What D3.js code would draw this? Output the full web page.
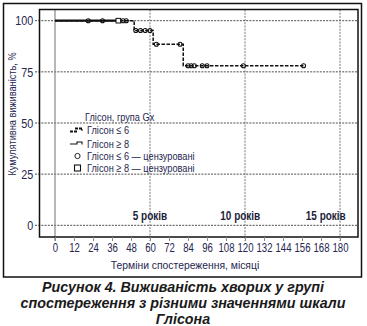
<!DOCTYPE html>
<html><head><meta charset="utf-8">
<script src="https://cdn.jsdelivr.net/npm/d3@7"></script>
<style>
html,body{margin:0;padding:0;background:#fff;}
svg{display:block;}
</style></head>
<body>
<svg id="c" width="367" height="326"></svg>
<script>
// ---- data ----
const xTicks = [0,12,24,36,48,60,72,84,96,108,120,132,144,156,168,180];
const yTicks = [0,25,50,75,100];
const yearMarks = [60,120,180];
const yearLabels = ["5 років","10 років","15 років"];
const yearLabelPos = [60,117,171];
// Gleason <= 6: KM step times and survival
const le6Times = [0,50,62,81];
const le6Surv  = [100,95.2,88.5,78.0];
const le6End = 157;
const le6Censor = [21,30,43,45,51,54,57,60,64,79,84,86,88,93,96,119,157];
// Gleason >= 8
const ge8Times = [0];
const ge8Surv  = [100];
const ge8End = 40;
const ge8Censor = [40];
const legendLabels = ["Глісон ≤ 6","Глісон ≥ 8","Глісон ≤ 6 — цензуровані","Глісон ≥ 8 — цензуровані"];

const svg = d3.select("#c");
const navy = "#262650";
const fontN = "'Liberation Sans',Arial,sans-serif";
const plot = {l:39.5, t:9.5, r:358, b:237};

const x = d3.scaleLinear().domain([0,180]).range([55,340]);
const y = d3.scaleLinear().domain([0,100]).range([225.3,20.7]);

// narrow text placed at (px,py)
function ntext(g, px, py, s, str){
  return g.append("text").attr("transform",`translate(${px},${py}) scale(${s},1)`).text(str);
}

// outer frame
svg.append("rect").attr("x",3.5).attr("y",3.5).attr("width",358).attr("height",273.5)
  .attr("fill","none").attr("stroke","#111").attr("stroke-width",1.5);

// horizontal dashed gridlines (extend left as ticks)
svg.append("g").selectAll("line").data(yTicks).join("line")
  .attr("x1",35).attr("x2",plot.r).attr("y1",d=>y(d)).attr("y2",d=>y(d))
  .attr("stroke","#222").attr("stroke-width",0.8).attr("stroke-dasharray","2,1.2");

// vertical grid lines
svg.append("g").selectAll("line").data(yearMarks).join("line")
  .attr("x1",d=>x(d)).attr("x2",d=>x(d)).attr("y1",plot.t).attr("y2",plot.b+4)
  .attr("stroke","#777").attr("stroke-width",1).attr("stroke-dasharray","2,1.2");
svg.append("line").attr("x1",x(0)).attr("x2",x(0)).attr("y1",plot.t).attr("y2",plot.b+4)
  .attr("stroke","#888").attr("stroke-width",1.2);

// plot frame
svg.append("rect").attr("x",plot.l).attr("y",plot.t).attr("width",plot.r-plot.l).attr("height",plot.b-plot.t)
  .attr("fill","none").attr("stroke","#111").attr("stroke-width",1.5);

// x axis
const xa = svg.append("g").attr("transform",`translate(0,${plot.b})`)
  .call(d3.axisBottom(x).tickValues(xTicks).tickSize(4).tickPadding(2));
xa.select(".domain").remove();
xa.selectAll(".tick line").attr("stroke","#888");
xa.selectAll("text").attr("font-family",fontN).attr("font-size","12px").attr("fill",navy)
  .attr("transform","scale(0.8,1)");

// y axis labels
const ya = svg.append("g").attr("transform",`translate(34,0)`)
  .call(d3.axisLeft(y).tickValues(yTicks).tickSize(0).tickPadding(1));
ya.select(".domain").remove();
ya.selectAll("text").attr("font-family",fontN).attr("font-size","13px").attr("fill",navy)
  .attr("transform","scale(0.83,1)");

// axis titles
const tg = svg.append("g").attr("font-family",fontN).attr("font-size","11.5px").attr("fill",navy).attr("text-anchor","middle");
ntext(tg,185,269,0.9,"Терміни спостереження, місяці");
tg.append("text").attr("transform","translate(16,114) rotate(-90) scale(0.8,1)")
  .text("Кумулятивна виживаність, %");

// year labels
const yl = svg.append("g").attr("font-family",fontN).attr("font-size","12.5px").attr("font-weight","bold")
  .attr("fill","#1d1d3a").attr("text-anchor","middle");
yearLabels.forEach((d,i)=>ntext(yl,x(yearLabelPos[i]),220,0.8,d));

// KM helper
function stepPts(times, surv, end){
  const pts=[];
  times.forEach((t,i)=>{
    if(i>0) pts.push([t,surv[i-1]]);
    pts.push([t,surv[i]]);
  });
  pts.push([end,surv[surv.length-1]]);
  return pts;
}
function survAt(times,surv,t){
  let s=surv[0];
  times.forEach((tt,i)=>{ if(tt<=t) s=surv[i]; });
  return s;
}
const line = d3.line().x(d=>x(d[0])).y(d=>y(d[1]));

// Gleason >= 8 (solid)
svg.append("path").attr("d",line(stepPts(ge8Times,ge8Surv,ge8End)))
  .attr("fill","none").attr("stroke","#111").attr("stroke-width",2.2);
// Gleason <= 6 (dashed)
svg.append("path").attr("d",line(stepPts(le6Times,le6Surv,le6End)))
  .attr("fill","none").attr("stroke","#111").attr("stroke-width",1.5).attr("stroke-dasharray","3.5,1.5");

// censor marks
svg.append("g").selectAll("circle").data(le6Censor).join("circle")
  .attr("cx",d=>x(d)).attr("cy",d=>y(survAt(le6Times,le6Surv,d))).attr("r",2)
  .attr("fill","none").attr("stroke","#111").attr("stroke-width",1.1);
svg.append("g").selectAll("rect").data(ge8Censor).join("rect")
  .attr("x",d=>x(d)-2.3).attr("y",d=>y(survAt(ge8Times,ge8Surv,d))-2.3).attr("width",4.6).attr("height",4.6)
  .attr("fill","#fff").attr("stroke","#111").attr("stroke-width",1);

// legend
const lg = svg.append("g").attr("font-family",fontN).attr("font-size","11.8px").attr("fill",navy);
ntext(lg,85,121,0.78,"Глісон, група Gx");
const rowsY = [130,143.5,156,168];
legendLabels.forEach((d,i)=>ntext(lg,87,rowsY[i]+4,0.78,d));
// symbols
lg.append("path").attr("d",`M70,${rowsY[0]+1.5}H76V${rowsY[0]-1.5}H82V${rowsY[0]+0.5}`)
  .attr("fill","none").attr("stroke","#111").attr("stroke-width",2).attr("stroke-dasharray","3,1");
lg.append("path").attr("d",`M70,${rowsY[1]+0.5}H77V${rowsY[1]-1.5}H82V${rowsY[1]+1}`)
  .attr("fill","none").attr("stroke","#111").attr("stroke-width",1.1);
lg.append("circle").attr("cx",77.5).attr("cy",rowsY[2]).attr("r",2.6)
  .attr("fill","none").attr("stroke","#222").attr("stroke-width",1);
lg.append("rect").attr("x",74.5).attr("y",rowsY[3]-3).attr("width",6).attr("height",6)
  .attr("fill","none").attr("stroke","#111").attr("stroke-width",1.1);

// caption
const cap = ["Рисунок 4. Виживаність хворих у групі","спостереження з різними значеннями шкали","Глісона"];
svg.append("g").selectAll("text").data(cap).join("text")
  .attr("x",183).attr("y",(d,i)=>292+i*16).attr("text-anchor","middle")
  .attr("font-family","'Liberation Sans',Arial,sans-serif").attr("font-size","14.3px")
  .attr("font-weight","bold").attr("font-style","italic").attr("fill","#1a1a1a")
  .text(d=>d);
</script>
</body></html>
